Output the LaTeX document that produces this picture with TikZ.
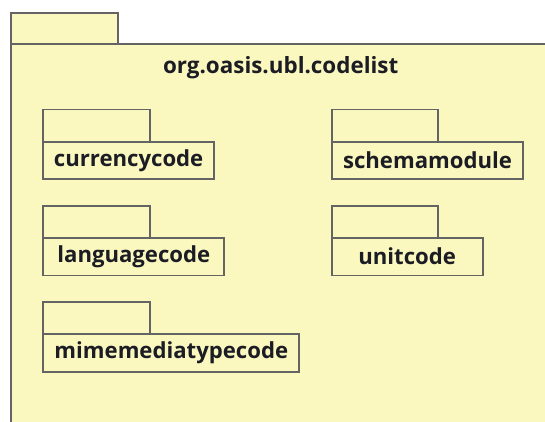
\documentclass[tikz,border=0pt]{standalone}
\usepackage{fontspec}
\setmainfont{Open Sans}
\definecolor{pkgfill}{RGB}{250,248,190}
\definecolor{pkgline}{RGB}{100,100,100}
\definecolor{pkgtext}{RGB}{28,28,36}
\tikzset{
  pkgshape/.style={draw=pkgline, fill=pkgfill, line width=1.4pt, outer sep=0pt, inner sep=0pt, rectangle},
  pkgtab/.style={pkgshape, minimum width=80pt, minimum height=24.2pt, anchor=north west},
  pkgbody/.style={pkgshape, minimum height=28.2pt, anchor=north west, text=pkgtext, font=\fontsize{16.6pt}{19pt}\selectfont\bfseries},
  pkgtitle/.style={text=pkgtext, font=\fontsize{16.8pt}{19pt}\selectfont\bfseries, inner sep=0pt}
}
\begin{document}
\begin{tikzpicture}[x=0.75pt,y=-0.75pt]
\useasboundingbox (0,0) rectangle (545,421);
\fill[white] (0,0) rectangle (545,421);
\clip (0,0) rectangle (545,421);
% outer package
\node[pkgtab, minimum height=23pt] (outertab) at (11,13.3) {};
\node[pkgshape, anchor=north west, minimum width=420pt, minimum height=315pt] (outerbody) at (outertab.south west) {};
\node[pkgtitle] (title) at (280.7,67.8) {org.oasis.ubl.codelist};
% currencycode
\node[pkgtab] (tcur) at (43.3,109.5) {};
\node[pkgbody, minimum width=128pt] (cur) at (tcur.south west) {currencycode};
% schemamodule
\node[pkgtab] (tsch) at (331.7,109.5) {};
\node[pkgbody, minimum width=143.7pt] (sch) at (tsch.south west) {schemamodule};
% languagecode
\node[pkgtab] (tlan) at (43.3,205.6) {};
\node[pkgbody, minimum width=135.75pt] (lan) at (tlan.south west) {languagecode};
% unitcode
\node[pkgtab] (tuni) at (331.7,205.6) {};
\node[pkgbody, minimum width=113.25pt] (uni) at (tuni.south west) {unitcode};
% mimemediatypecode
\node[pkgtab] (tmim) at (43.3,301.7) {};
\node[pkgbody, minimum width=192pt] (mim) at (tmim.south west) {mimemediatypecode};
\end{tikzpicture}
\end{document}
